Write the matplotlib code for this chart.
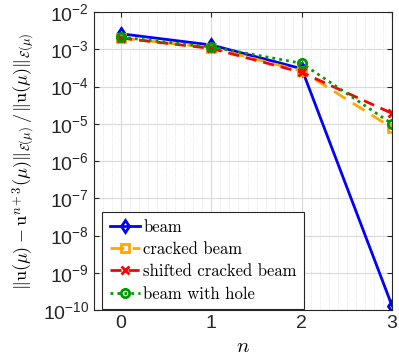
"""Relative error vs n for the beam test cases."""

import matplotlib

matplotlib.use("Agg")
import matplotlib.pyplot as plt
from matplotlib.ticker import MultipleLocator

n_values = [0, 1, 2, 3]
beam = [2.6e-3, 1.3e-3, 3.0e-4, 1.3e-10]
cracked_beam = [2.0e-3, 1.1e-3, 2.6e-4, 7.8e-6]
shifted_cracked_beam = [2.0e-3, 1.05e-3, 2.4e-4, 1.9e-5]
beam_with_hole = [2.1e-3, 1.15e-3, 4.2e-4, 1.0e-5]

series = [
    ("beam", beam, (0, 0, 1), "-", "d"),
    ("cracked beam", cracked_beam, (1, 0.65, 0), (0, (5, 3)), "s"),
    ("shifted cracked beam", shifted_cracked_beam, (1, 0, 0), (0, (4, 2.5)), "x"),
    ("beam with hole", beam_with_hole, (0, 0.6, 0), (0, (1, 1.5)), "o"),
]

plt.rcParams["mathtext.fontset"] = "cm"
plt.rcParams["font.family"] = ["Liberation Sans", "DejaVu Sans"]

fig = plt.figure(figsize=(3.99, 3.64), dpi=100)
ax = fig.add_axes([94 / 399, 1 - 310 / 364, 298 / 399, 298 / 364])

for label, values, color, style, marker in series:
    ax.plot(n_values, values, color=color, linestyle=style, marker=marker,
            markersize=6, markerfacecolor="none", markeredgewidth=2,
            linewidth=2, label=label)

ax.set_yscale("log")
ax.set_xlim(-0.3, 3)
ax.set_ylim(1e-10, 1e-2)
ax.set_xticks(n_values)
ax.xaxis.set_minor_locator(MultipleLocator(0.1))
ax.set_yticks([10.0 ** k for k in range(-10, -1)])
ax.grid(True, which="major", color="#d9d9d9", linewidth=0.8)
ax.grid(True, which="minor", color="#dcdcdc", linestyle=":", linewidth=0.6)
ax.tick_params(which="both", direction="in", top=True, right=True,
               labelsize=14, colors="#262626")
ax.tick_params(axis="x", which="minor", length=0)
for spine in ax.spines.values():
    spine.set_color("#262626")

ax.set_xlabel(r"$n$", fontsize=15)
ax.set_ylabel(r"$\|\mathrm{u}(\mu)-\mathrm{u}^{n+3}(\mu)\|_{\mathcal{E}(\mu)}"
              r"\,/\,\|\mathrm{u}(\mu)\|_{\mathcal{E}(\mu)}$", fontsize=13)

leg = ax.legend(loc="lower left", prop={"family": "cmr10", "size": 12},
                fancybox=False, edgecolor="#262626", framealpha=1,
                handlelength=1.8, handletextpad=0.2, borderpad=0.45,
                labelspacing=0.42, borderaxespad=0.0,
                bbox_to_anchor=(0.028, 0.003))
leg.get_frame().set_linewidth(0.8)

fig.savefig("out.png", dpi=100)
